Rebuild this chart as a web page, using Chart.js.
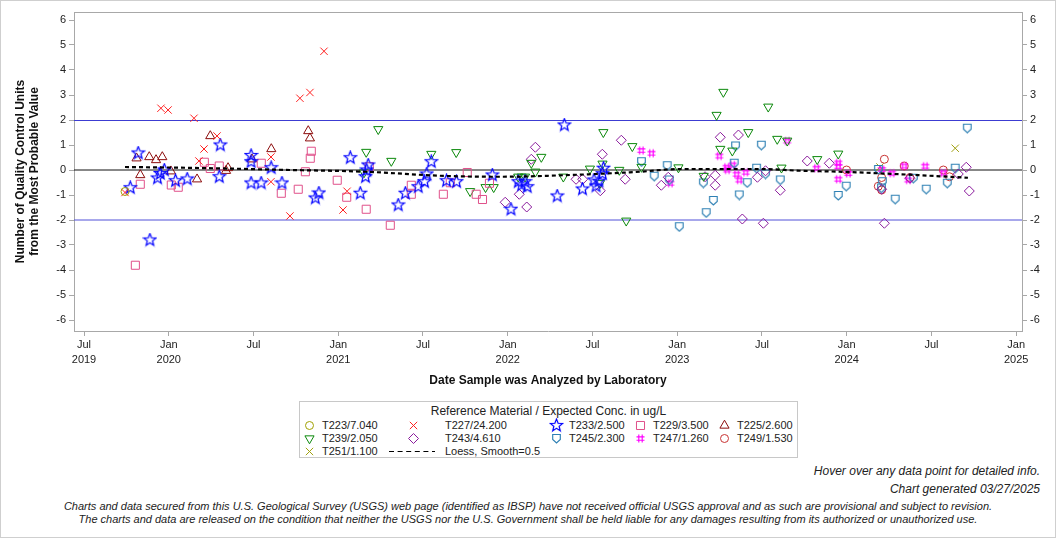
<!DOCTYPE html>
<html>
<head>
<meta charset="utf-8">
<script src="https://cdn.jsdelivr.net/npm/chart.js@4.4.1/dist/chart.umd.min.js"></script>
<style>
html, body { margin: 0; padding: 0; background: #fff; }
#page { position: relative; width: 1056px; height: 538px; overflow: hidden; font-family: "Liberation Sans", Arial, sans-serif; color: #222; }
#frame { position: absolute; left: 0; top: 0; width: 1056px; height: 538px; box-sizing: border-box; border: 1px solid #cfcfcf; pointer-events: none; }
#chartBox { position: absolute; left: 0; top: 0; width: 1056px; height: 400px; }
#legendBox { position: absolute; left: 299px; top: 401px; width: 499px; height: 57px; box-sizing: border-box; border: 1px solid #c8c8c8; }
.lg-title { position: absolute; left: 299px; width: 499px; top: 404px; text-align: center; font-size: 12px; line-height: 14px; }
.lg-text { position: absolute; font-size: 11px; line-height: 13px; white-space: nowrap; }
.lg-sym { position: absolute; }
.note { position: absolute; font-style: italic; white-space: nowrap; }
</style>
</head>
<body>
<div id="page">
  <div id="chartBox"><canvas id="qc" width="1056" height="400"></canvas></div>
  <div id="legendBox"></div>
  <div class="lg-title">Reference Material / Expected Conc. in ug/L</div>
  <div id="legendItems"></div>
  <div class="note" style="right:16px; top:464px; font-size:12px; line-height:14px;">Hover over any data point for detailed info.</div>
  <div class="note" style="right:16px; top:482px; font-size:12px; line-height:14px;">Chart generated 03/27/2025</div>
  <div class="note" style="left:0; width:1056px; text-align:center; top:500px; font-size:11px; line-height:13px;">Charts and data secured from this U.S. Geological Survey (USGS) web page (identified as IBSP) have not received official USGS approval and as such are provisional and subject to revision.</div>
  <div class="note" style="left:0; width:1056px; text-align:center; top:513px; font-size:11px; line-height:13px;">The charts and data are released on the condition that neither the USGS nor the U.S. Government shall be held liable for any damages resulting from its authorized or unauthorized use.</div>
  <div id="frame"></div>
</div>
<script>
// x = decimal year of analysis, y = number of QC units from most probable value
const T223 = [[2019.742, -0.86]];
const T227 = [[2019.742,-0.9],[2019.954,2.47],[2019.996,2.4],[2020.149,2.07],[2020.178,0.36],[2020.208,0.84],[2020.285,1.36],[2020.603,0.52],[2020.603,-0.47],[2020.715,-1.84],[2020.774,2.87],[2020.833,3.1],[2020.916,4.75],[2021.028,-1.6],[2021.052,-0.85]];
const T233 = [[2019.773,-0.71],[2019.820,0.68],[2019.889,-2.8],[2019.934,-0.32],[2019.950,-0.14],[2019.974,0.0],[2020.040,-0.43],[2020.109,-0.36],[2020.298,-0.27],[2020.304,1.0],[2020.486,0.58],[2020.486,0.33],[2020.486,-0.52],[2020.545,-0.52],[2020.604,0.09],[2020.668,-0.52],[2020.865,-1.12],[2020.886,-0.92],[2021.071,0.49],[2021.130,-0.93],[2021.161,-0.27],[2021.168,0.0],[2021.177,0.2],[2021.354,-1.4],[2021.396,-0.93],[2021.472,-0.67],[2021.509,-0.47],[2021.522,-0.16],[2021.549,0.33],[2021.639,-0.43],[2021.698,-0.47],[2021.909,-0.2],[2022.019,-1.57],[2022.062,-0.47],[2022.082,-0.6],[2022.102,-0.47],[2022.115,-0.67],[2022.292,-1.04],[2022.334,1.8],[2022.441,-0.76],[2022.509,-0.4],[2022.521,-0.64],[2022.538,-0.45],[2022.559,-0.15],[2022.565,0.07]];
const T229 = [[2019.803,-3.81],[2019.832,-0.57],[2020.015,-0.6],[2020.056,-0.69],[2020.210,0.31],[2020.245,0.06],[2020.298,0.16],[2020.546,0.27],[2020.664,-0.93],[2020.764,-0.77],[2020.806,-0.07],[2020.835,0.47],[2020.841,0.75],[2020.994,-0.41],[2021.050,-1.09],[2021.165,-1.57],[2021.183,0.13],[2021.307,-2.21],[2021.431,-0.61],[2021.431,-0.97],[2021.620,-0.97],[2021.661,-0.51],[2021.761,-0.1],[2021.814,-0.97],[2021.851,-1.18],[2021.892,-0.53]];
const T225 = [[2019.810,0.47],[2019.832,-0.2],[2019.885,0.52],[2019.925,0.4],[2019.962,0.52],[2020.013,-0.05],[2020.167,-0.37],[2020.245,1.36],[2020.338,-0.03],[2020.350,0.08],[2020.491,0.43],[2020.605,0.84],[2020.823,1.56],[2020.833,1.27]];
const T239 = [[2021.152,-0.1],[2021.165,0.72],[2021.236,1.63],[2021.313,0.36],[2021.549,0.64],[2021.696,0.71],[2021.778,-0.85],[2021.869,-0.69],[2021.917,-0.69],[2022.062,-0.27],[2022.082,-0.27],[2022.102,-0.27],[2022.139,0.28],[2022.163,-0.07],[2022.198,0.52],[2022.328,-0.27],[2022.485,0.05],[2022.544,-0.53],[2022.559,0.25],[2022.564,1.51],[2022.658,0.0],[2022.699,-2.03],[2022.735,0.95],[2022.789,0.12],[2023.007,0.1],[2023.156,-0.24],[2023.232,2.2],[2023.254,0.84],[2023.272,3.12],[2023.325,0.77],[2023.419,1.51],[2023.537,2.53],[2023.590,1.24],[2023.615,0.09],[2023.649,1.17],[2023.826,0.43],[2023.950,0.65]];
const T243 = [[2021.985,-1.29],[2022.068,-0.97],[2022.112,-1.48],[2022.139,0.43],[2022.163,0.91],[2022.403,-0.37],[2022.442,-0.37],[2022.546,-0.83],[2022.558,0.63],[2022.670,1.19],[2022.693,-0.37],[2022.906,-0.61],[2022.947,-0.29],[2023.164,-0.27],[2023.224,-0.21],[2023.224,-0.61],[2023.254,1.31],[2023.361,1.4],[2023.384,-1.96],[2023.473,-0.29],[2023.508,-2.13],[2023.521,-0.03],[2023.608,-0.81],[2023.767,0.36],[2023.897,0.27],[2024.206,-0.77],[2024.222,-2.13],[2024.373,-0.33],[2024.658,-0.16],[2024.705,0.11],[2024.723,-0.84]];
const T245 = [[2022.789,0.33],[2022.864,-0.25],[2022.941,0.17],[2022.953,-0.4],[2023.012,-2.27],[2023.154,-0.52],[2023.171,-1.71],[2023.213,-1.22],[2023.336,0.27],[2023.344,0.96],[2023.366,-1.0],[2023.413,-0.51],[2023.468,0.07],[2023.496,0.99],[2023.521,-0.16],[2023.608,-0.4],[2023.950,-1.02],[2023.997,-0.65],[2024.187,0.02],[2024.210,-0.47],[2024.205,-0.72],[2024.286,-1.17],[2024.393,-0.33],[2024.469,-0.77],[2024.593,-0.53],[2024.640,0.07],[2024.711,1.67]];
const T247 = [[2022.788,0.78],[2022.848,0.67],[2022.959,-0.53],[2023.248,0.56],[2023.292,0.11],[2023.295,0.0],[2023.327,0.2],[2023.351,-0.17],[2023.366,-0.4],[2023.404,-0.09],[2023.649,1.16],[2023.822,0.07],[2023.950,0.28],[2023.950,0.14],[2023.950,-0.37],[2024.009,-0.14],[2024.207,0.02],[2024.267,-0.13],[2024.339,0.16],[2024.363,-0.4],[2024.463,0.15],[2024.570,-0.12]];
const T249 = [[2023.999,0.0],[2024.186,-0.65],[2024.206,-0.3],[2024.206,-0.8],[2024.222,0.43],[2024.339,0.16],[2024.373,-0.3],[2024.570,0.0],[2024.606,-0.27]];
const T251 = [[2024.196,0.12],[2024.640,0.87]];
const loess = [[2019.742,0.12],[2020.184,0.08],[2020.715,0.0],[2021.164,-0.07],[2021.600,-0.23],[2021.954,-0.27],[2022.367,-0.2],[2022.780,-0.07],[2023.016,0.04],[2023.488,0.04],[2023.724,-0.03],[2023.960,-0.07],[2024.314,-0.17],[2024.715,-0.31]];

const seriesNames = ['T223/7.040','T227/24.200','T233/2.500','T229/3.500','T225/2.600','T239/2.050','T243/4.610','T245/2.300','T247/1.260','T249/1.530','T251/1.100'];
const seriesData = [T223, T227, T233, T229, T225, T239, T243, T245, T247, T249, T251];
const loessName = 'Loess, Smooth=0.5';

const xTickValues = [2019.5, 2020, 2020.5, 2021, 2021.5, 2022, 2022.5, 2023, 2023.5, 2024, 2024.5, 2025];
const xTickLabels = [['Jul','2019'],['Jan','2020'],['Jul'],['Jan','2021'],['Jul'],['Jan','2022'],['Jul'],['Jan','2023'],['Jul'],['Jan','2024'],['Jul'],['Jan','2025']];
const yTickValues = [-6,-5,-4,-3,-2,-1,0,1,2,3,4,5,6];
const limitLines = [2, -2];

// marker look per series, same order as seriesNames
// built-in chart.js styles where one exists, small canvases for the rest
const markers = [
  { kind: 'circle', color: '#a0a000', r: 4 },
  { kind: 'crossRot', color: '#ff2020', r: 5.2 },
  { kind: 'star', color: '#0000ff' },
  { kind: 'rect', color: '#e0508a', r: 5.7 },
  { kind: 'triangle', color: '#8c0c0c', r: 5.3 },
  { kind: 'triDown', color: '#0a880a', r: 5.3 },
  { kind: 'rectRot', color: '#8a1a9c', r: 5 },
  { kind: 'shield', color: '#2e80b4' },
  { kind: 'hash', color: '#ff00ff' },
  { kind: 'circle', color: '#c83232', r: 4 },
  { kind: 'crossRot', color: '#a0a010', r: 5.2 }
];

function makeIcon(kind, color) {
  const s = kind === 'star' ? 15 : 11;
  const c = document.createElement('canvas');
  c.width = s; c.height = s;
  const g = c.getContext('2d');
  g.translate(s / 2, s / 2);
  g.strokeStyle = color;
  g.lineWidth = 1.15;
  g.beginPath();
  if (kind === 'shield') {
    g.moveTo(-3.8, -4); g.lineTo(3.8, -4); g.lineTo(3.8, 1); g.lineTo(0, 4.5); g.lineTo(-3.8, 1); g.closePath();
  } else if (kind === 'hash') {
    g.moveTo(-1.7, -4); g.lineTo(-1.7, 4); g.moveTo(1.7, -4); g.lineTo(1.7, 4);
    g.moveTo(-4, -1.7); g.lineTo(4, -1.7); g.moveTo(-4, 1.7); g.lineTo(4, 1.7);
  } else if (kind === 'star') {
    for (let i = 0; i < 10; i++) {
      const r = i % 2 ? 2.8 : 6.4;
      const a = -Math.PI / 2 + i * Math.PI / 5;
      if (i === 0) g.moveTo(r * Math.cos(a), r * Math.sin(a));
      else g.lineTo(r * Math.cos(a), r * Math.sin(a));
    }
    g.closePath();
    g.save();
    g.strokeStyle = 'rgba(110,110,255,0.2)';
    g.lineWidth = 2.4;
    g.stroke();
    g.restore();
    g.lineWidth = 1.1;
  }
  g.stroke();
  return c;
}

// legend swatch: same shapes drawn on a small canvas
function legendIcon(m) {
  if (['star', 'shield', 'hash'].includes(m.kind)) return makeIcon(m.kind, m.color);
  const c = document.createElement('canvas');
  c.width = 13; c.height = 13;
  const style = m.kind === 'triDown' ? 'triangle' : m.kind;
  const g = c.getContext('2d');
  g.strokeStyle = m.color;
  g.fillStyle = 'rgba(0,0,0,0)';
  g.lineWidth = 1;
  Chart.helpers.drawPoint(g, { pointStyle: style, radius: m.r, rotation: m.kind === 'triDown' ? 180 : 0, borderWidth: 1 }, 6.5, 6.5);
  return c;
}

const datasets = [{
  label: loessName,
  data: loess.map(([x, y]) => ({ x, y })),
  showLine: true,
  borderColor: '#000',
  borderWidth: 2.2,
  borderDash: [4, 3],
  pointRadius: 0,
  pointHoverRadius: 0,
  cubicInterpolationMode: 'monotone',
  fill: false
}];
seriesNames.forEach((name, i) => {
  const m = markers[i];
  const custom = ['star', 'shield', 'hash'].includes(m.kind);
  datasets.push({
    label: name,
    data: seriesData[i].map(([x, y]) => ({ x, y })),
    pointStyle: custom ? makeIcon(m.kind, m.color) : (m.kind === 'triDown' ? 'triangle' : m.kind),
    pointRotation: m.kind === 'triDown' ? 180 : 0,
    pointRadius: custom ? 4 : m.r,
    pointHoverRadius: custom ? 5 : m.r + 1,
    pointBorderWidth: 1,
    borderColor: m.color,
    backgroundColor: 'rgba(0,0,0,0)'
  });
});

const refLines = {
  id: 'refLines',
  beforeDatasetsDraw(chart) {
    const { ctx, chartArea: a, scales: { y } } = chart;
    ctx.save();
    ctx.lineWidth = 1;
    limitLines.forEach((v, i) => {
      const py = Math.round(y.getPixelForValue(v)) + (i === 0 ? 0.5 : 0);
      ctx.strokeStyle = i === 0 ? '#3c3cd2' : '#5050d8';
      ctx.beginPath(); ctx.moveTo(a.left, py); ctx.lineTo(a.right, py); ctx.stroke();
    });
    const p0 = Math.round(y.getPixelForValue(0));
    ctx.strokeStyle = '#111';
    ctx.beginPath(); ctx.moveTo(a.left, p0); ctx.lineTo(a.right, p0); ctx.stroke();
    ctx.restore();
  },
  afterDraw(chart) {
    const { ctx, chartArea: a } = chart;
    ctx.save();
    ctx.strokeStyle = '#a8a8a8';
    ctx.lineWidth = 1;
    ctx.beginPath(); ctx.moveTo(a.left, a.top + 0.5); ctx.lineTo(a.right, a.top + 0.5); ctx.stroke();
    ctx.restore();
  }
};

Chart.defaults.font.family = '"Liberation Sans", Arial, sans-serif';
Chart.defaults.color = '#222';

const yAxis = (pos, width, withTitle) => ({
  type: 'linear',
  position: pos,
  min: -6.44,
  max: 6.32,
  afterBuildTicks: (ax) => { ax.ticks = yTickValues.map(v => ({ value: v })); },
  afterFit: (s) => { s.width = width; },
  ticks: { font: { size: 11 }, color: '#222', padding: 3 },
  grid: { drawOnChartArea: false, tickLength: 5, color: '#a8a8a8' },
  border: { color: '#a8a8a8' },
  title: {
    display: withTitle,
    text: ['Number of Quality Control Units', 'from the Most Probable Value'],
    font: { size: 12, weight: 'bold' },
    color: '#111',
    padding: { top: 4, bottom: 4 }
  }
});

new Chart(document.getElementById('qc'), {
  type: 'scatter',
  data: { datasets },
  options: {
    responsive: false,
    animation: false,
    layout: { padding: { left: 9, top: 12, right: 0, bottom: 8 } },
    plugins: {
      legend: { display: false },
      tooltip: {
        callbacks: {
          label: (c) => `${c.dataset.label}: ${c.parsed.y.toFixed(2)}`
        }
      }
    },
    scales: {
      x: {
        type: 'linear',
        min: 2019.441,
        max: 2025.034,
        afterBuildTicks: (ax) => { ax.ticks = xTickValues.map(v => ({ value: v })); },
        afterFit: (s) => { s.height = 61; },
        ticks: {
          autoSkip: false,
          maxRotation: 0,
          padding: 2,
          font: { size: 11, lineHeight: 1.35 },
          color: '#222',
          callback: (v, i) => xTickLabels[i]
        },
        grid: { drawOnChartArea: false, tickLength: 5, color: '#a8a8a8' },
        border: { color: '#a8a8a8' },
        title: {
          display: true,
          text: 'Date Sample was Analyzed by Laboratory',
          font: { size: 12, weight: 'bold' },
          color: '#111',
          padding: { top: 4, bottom: 4 }
        }
      },
      y: yAxis('left', 65, true),
      y2: yAxis('right', 34, false)
    }
  },
  plugins: [refLines]
});

// legend (html, same marker shapes)
const lgSymX = [309, 413, 556, 640, 724];
const lgTextX = [322, 445, 569, 653, 737];
const lgRowY = [425, 438, 451];
const holder = document.getElementById('legendItems');
seriesNames.forEach((name, i) => {
  const col = i % 5, row = Math.floor(i / 5);
  const icon = legendIcon(markers[i]);
  icon.className = 'lg-sym';
  icon.style.left = (lgSymX[col] - icon.width / 2) + 'px';
  icon.style.top = (lgRowY[row] - icon.height / 2) + 'px';
  holder.appendChild(icon);
  const t = document.createElement('div');
  t.className = 'lg-text';
  t.textContent = name;
  t.style.left = lgTextX[col] + 'px';
  t.style.top = (lgRowY[row] - 6.5) + 'px';
  holder.appendChild(t);
});
const dash = document.createElement('canvas');
dash.width = 48; dash.height = 5;
dash.className = 'lg-sym';
dash.style.left = '388px';
dash.style.top = (lgRowY[2] - 2) + 'px';
const dg = dash.getContext('2d');
dg.strokeStyle = '#000'; dg.lineWidth = 1; dg.setLineDash([5, 3.6]);
dg.beginPath(); dg.moveTo(1, 2.5); dg.lineTo(47, 2.5); dg.stroke();
holder.appendChild(dash);
const lt = document.createElement('div');
lt.className = 'lg-text';
lt.textContent = loessName;
lt.style.left = lgTextX[1] + 'px';
lt.style.top = (lgRowY[2] - 6.5) + 'px';
holder.appendChild(lt);
</script>
</body>
</html>
